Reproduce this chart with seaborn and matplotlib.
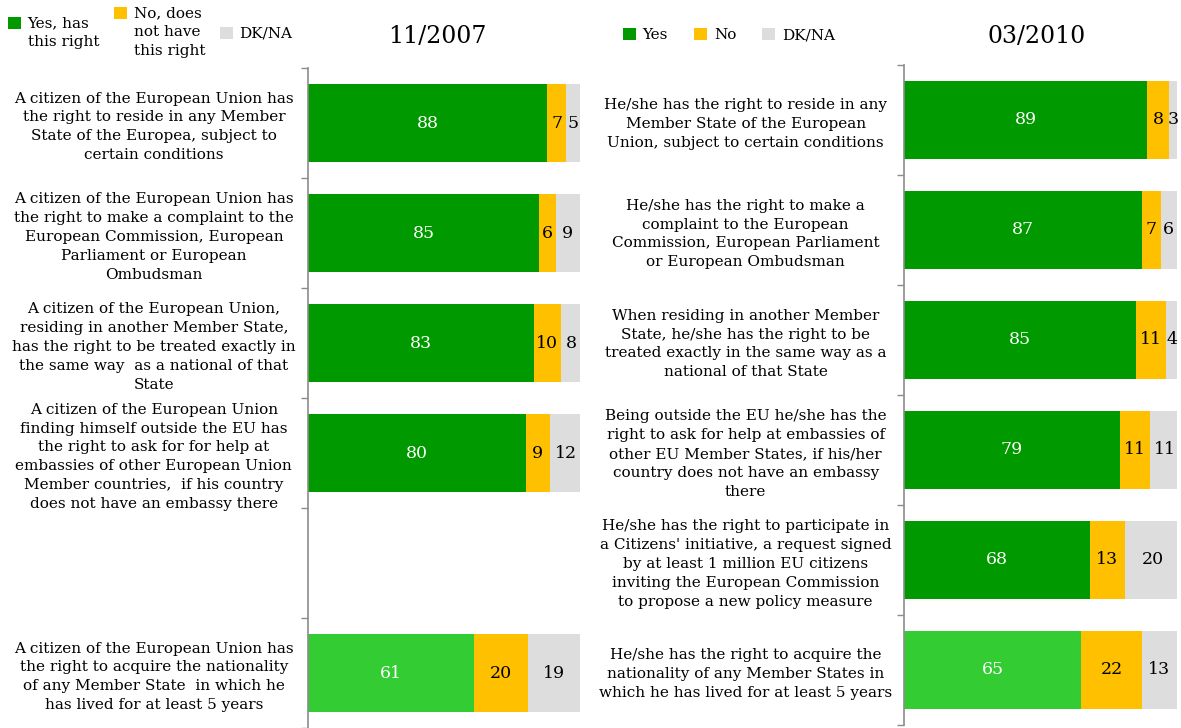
import numpy as np
import pandas as pd
import seaborn as sns
import matplotlib.pyplot as plt
from matplotlib.patches import Patch, Rectangle
from matplotlib.legend_handler import HandlerPatch
from matplotlib.ticker import FixedLocator

# --- datos ---------------------------------------------------------------
items_2007 = [
    "A citizen of the European Union has\nthe right to reside in any Member\nState of the Europea, subject to\ncertain conditions",
    "A citizen of the European Union has\nthe right to make a complaint to the\nEuropean Commission, European\nParliament or European\nOmbudsman",
    "A citizen of the European Union,\nresiding in another Member State,\nhas the right to be treated exactly in\nthe same way  as a national of that\nState",
    "A citizen of the European Union\nfinding himself outside the EU has\nthe right to ask for for help at\nembassies of other European Union\nMember countries,  if his country\ndoes not have an embassy there",
    " ",
    "A citizen of the European Union has\nthe right to acquire the nationality\nof any Member State  in which he\nhas lived for at least 5 years",
]
yes_2007 = [88, 85, 83, 80, np.nan, 61]
no_2007 = [7, 6, 10, 9, np.nan, 20]
dk_2007 = [5, 9, 8, 12, np.nan, 19]

items_2010 = [
    "He/she has the right to reside in any\nMember State of the European\nUnion, subject to certain conditions",
    "He/she has the right to make a\ncomplaint to the European\nCommission, European Parliament\nor European Ombudsman",
    "When residing in another Member\nState, he/she has the right to be\ntreated exactly in the same way as a\nnational of that State",
    "Being outside the EU he/she has the\nright to ask for help at embassies of\nother EU Member States, if his/her\ncountry does not have an embassy\nthere",
    "He/she has the right to participate in\na Citizens' initiative, a request signed\nby at least 1 million EU citizens\ninviting the European Commission\nto propose a new policy measure",
    "He/she has the right to acquire the\nnationality of any Member States in\nwhich he has lived for at least 5 years",
]
yes_2010 = [89, 87, 85, 79, 68, 65]
no_2010 = [8, 7, 11, 11, 13, 22]
dk_2010 = [3, 6, 4, 11, 20, 13]

legend_2007 = ["Yes, has\nthis right", "No, does\nnot have\nthis right", "DK/NA"]
legend_2010 = ["Yes", "No", "DK/NA"]

# --- estilo --------------------------------------------------------------
VERDE = "#009900"
VERDE_CLARO = "#33cc33"
AMARILLO = "#ffc000"
GRIS = "#dddddd"
GRIS_EJE = "#8c8c8c"
FS = 11
INTERLINEA = 1.45

sns.set_theme(style="white")
plt.rcParams["font.family"] = ["DejaVu Serif"]
plt.rcParams["text.color"] = "black"
plt.rcParams["ytick.labelcolor"] = "black"


def dibujar_panel(ax, items, yes, no, dk, pad):
    df = pd.DataFrame({"item": items, "yes": yes, "no": no, "dk": dk})
    df["yes_no"] = df["yes"] + df["no"]
    df["total"] = df["yes_no"] + df["dk"]
    # el ultimo item va en verde claro
    verdes = {it: (VERDE_CLARO if i == len(items) - 1 else VERDE) for i, it in enumerate(items)}

    kw = dict(data=df, y="item", order=items, orient="h", width=0.71, saturation=1,
              errorbar=None, linewidth=0, ax=ax)
    sns.barplot(x="total", color=GRIS, **kw)
    sns.barplot(x="yes_no", color=AMARILLO, **kw)
    sns.barplot(x="yes", hue="item", hue_order=items, palette=verdes, legend=False,
                dodge=False, **kw)

    for i, (y, n, d) in enumerate(zip(yes, no, dk)):
        if np.isnan(y):
            continue
        ax.text(y / 2, i, f"{y:.0f}", color="white", ha="center", va="center", fontsize=12.5)
        ax.text(y + n / 2, i, f"{n:.0f}", color="black", ha="center", va="center", fontsize=12.5)
        ax.text(y + n + d / 2, i, f"{d:.0f}", color="black", ha="center", va="center", fontsize=12.5)

    ax.set_xlim(0, 100)
    ax.set_ylim(len(items) - 0.5, -0.5)
    ax.set_xticks([])
    ax.set_xlabel("")
    ax.set_ylabel("")
    sns.despine(ax=ax, top=True, right=True, bottom=True)
    ax.spines["left"].set_color(GRIS_EJE)
    ax.spines["left"].set_linewidth(1.2)

    ax.yaxis.set_minor_locator(FixedLocator(np.arange(-0.5, len(items), 1.0)))
    ax.tick_params(axis="y", which="minor", left=True, length=5, width=1, color=GRIS_EJE)
    ax.tick_params(axis="y", which="major", length=0, pad=pad, labelsize=FS,
                   labelcolor="black")
    for lbl in ax.get_yticklabels():
        lbl.set_ha("center")
        lbl.set_multialignment("center")
        lbl.set_linespacing(INTERLINEA)


def cuadro_desplazado(n_lineas):
    def hacer(legend, orig_handle, xdescent, ydescent, width, height, fontsize):
        subida = (n_lineas - 1) * 0.5 * fontsize * 1.3
        return Rectangle((-xdescent, -ydescent + subida), width, height)
    return hacer


def leyenda(fig, etiquetas, espacio, **kw):
    colores = [VERDE, AMARILLO, GRIS]
    handles = [Patch(facecolor=c, edgecolor="none") for c in colores]
    hmap = {h: HandlerPatch(patch_func=cuadro_desplazado(e.count("\n") + 1))
            for h, e in zip(handles, etiquetas)}
    leg = fig.legend(handles, etiquetas, ncol=3, frameon=False, fontsize=FS,
                     handlelength=0.85, handleheight=0.85, handletextpad=0.45,
                     columnspacing=espacio, handler_map=hmap, **kw)
    for t in leg.get_texts():
        t.set_linespacing(INTERLINEA)
        t.set_color("black")
    return leg


fig = plt.figure(figsize=(11.81, 7.28), dpi=100)
ax1 = fig.add_axes([308 / 1181, 0.0, 272 / 1181, 660 / 728])
ax2 = fig.add_axes([904 / 1181, 3 / 728, 273 / 1181, 660 / 728])

dibujar_panel(ax1, items_2007, yes_2007, no_2007, dk_2007, pad=111)
dibujar_panel(ax2, items_2010, yes_2010, no_2010, dk_2010, pad=114)

ax1.set_title("11/2007", fontsize=17, pad=18, color="black", x=0.474)
ax2.set_title("03/2010", fontsize=17, pad=16, color="black", x=0.484)

leyenda(fig, legend_2007, 0.95, loc="upper left", bbox_to_anchor=(-0.005, 1.01))
leyenda(fig, legend_2010, 1.7, loc="center left", bbox_to_anchor=(609 / 1181, 1 - 35 / 728))

fig.savefig("out.png", dpi=100)
